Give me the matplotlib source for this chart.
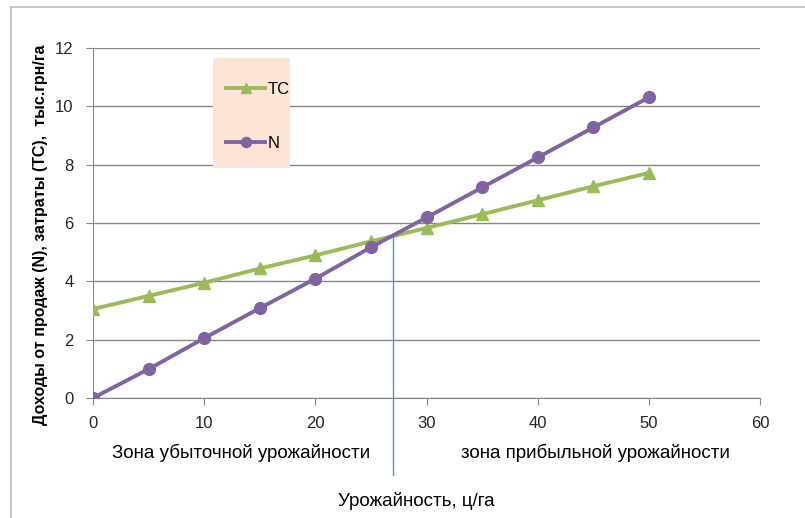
import matplotlib
matplotlib.use("Agg")
from matplotlib import pyplot as plt
from matplotlib.patches import Rectangle
from matplotlib.lines import Line2D

plt.rcParams['font.family'] = ['Liberation Sans Narrow', 'Liberation Sans', 'DejaVu Sans']

# Yield (c/ha) and the two series, thousand UAH/ha
yield_x = [0, 5, 10, 15, 20, 25, 30, 35, 40, 45, 50]
costs_tc = [3.05, 3.50, 3.95, 4.44, 4.89, 5.37, 5.83, 6.30, 6.78, 7.26, 7.72]
revenue_n = [0.0, 0.99, 2.05, 3.08, 4.09, 5.17, 6.19, 7.22, 8.25, 9.28, 10.31]
breakeven_x = 27

green = '#9BBB59'
purple = '#8064A2'
grid_grey = '#868686'
text_col = '#262626'

fig = plt.figure(figsize=(8.05, 5.18), dpi=100)
ax = fig.add_axes([0.1155, 0.2317, 0.829, 0.6756])

# outer chart frame (only top and left edges show)
fig.add_artist(Line2D([11 / 805, 11 / 805], [0, 1 - 7 / 518], transform=fig.transFigure,
                      color='#BFBFBF', lw=1.2))
fig.add_artist(Line2D([11 / 805, 1], [1 - 7 / 518, 1 - 7 / 518], transform=fig.transFigure,
                      color='#BFBFBF', lw=1.2))

ax.plot(yield_x, costs_tc, color=green, lw=2.8, marker='^', markersize=9, label='TC', zorder=3)
ax.plot(yield_x, revenue_n, color=purple, lw=2.8, marker='o', markersize=8.5, label='N', zorder=4)

# break-even line, runs down past the axis between the zone captions
ax.plot([breakeven_x, breakeven_x], [5.6, -2.65], color='#5B8FCB', lw=1, clip_on=False, zorder=2)

ax.set_xlim(0, 60)
ax.set_ylim(0, 12)
ax.set_xticks(range(0, 61, 10))
ax.set_yticks(range(0, 13, 2))
ax.yaxis.grid(True, color=grid_grey, lw=1)
ax.set_axisbelow(True)
for s in ['top', 'right']:
    ax.spines[s].set_visible(False)
for s in ['left', 'bottom']:
    ax.spines[s].set_color(grid_grey)
ax.tick_params(axis='both', colors=grid_grey, length=5, labelsize=12, labelcolor=text_col)
ax.tick_params(axis='x', pad=8)
ax.tick_params(axis='y', pad=9)

ax.set_ylabel('Доходы от продаж (N), затраты (TC),  тыс.грн/га', fontsize=11.5,
              fontweight='bold', color='black')
ax.yaxis.set_label_coords(-0.068, 0.465)

fig.text(241 / 805, 1 - 453 / 518, 'Зона убыточной урожайности', ha='center', va='center',
         fontsize=13.5, color='black')
fig.text(595 / 805, 1 - 453 / 518, 'зона прибыльной урожайности', ha='center', va='center',
         fontsize=13.5, color='black')
fig.text(416 / 805, 1 - 501 / 518, 'Урожайность, ц/га', ha='center', va='center',
         fontsize=13.5, color='black')

# legend on a peach panel
ax.add_patch(Rectangle((213 / 805, 1 - 168 / 518), 77 / 805, 110 / 518,
                       transform=fig.transFigure, facecolor='#FCE4D6', edgecolor='none',
                       zorder=5, clip_on=False))
leg = ax.legend(loc='upper left', bbox_to_anchor=(208 / 805, 1 - 64 / 518),
                bbox_transform=fig.transFigure, frameon=False, fontsize=12,
                handlelength=2.3, handletextpad=0.2, labelspacing=2.3, borderpad=0.6,
                markerscale=0.85)
leg.set_zorder(6)

fig.savefig('out.png', dpi=100)
